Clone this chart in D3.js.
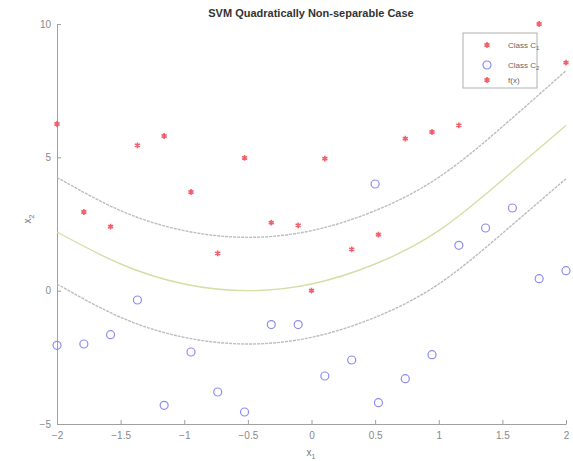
<!DOCTYPE html>
<html>
<head>
<meta charset="utf-8">
<script src="https://cdn.jsdelivr.net/npm/d3@7"></script>
<style>
  body { margin: 0; background: #fff; }
  text { font-family: "Liberation Sans", Arial, sans-serif; }
</style>
</head>
<body>
<div id="chart"></div>
<script>
// class C1 (red asterisks)
const c1X = [-2, -1.789, -1.579, -1.368, -1.158, -0.947, -0.737, -0.526, -0.316, -0.105,
             0.105, 0, 0.316, 0.526, 0.737, 0.947, 1.158, 1.789, 2];
const c1Y = [6.25, 2.95, 2.4, 5.45, 5.8, 3.7, 1.4, 4.98, 2.55, 2.45,
             4.95, 0, 1.55, 2.1, 5.7, 5.95, 6.2, 10, 8.55];

// class C2 (blue circles)
const c2X = [-2, -1.789, -1.579, -1.368, -1.158, -0.947, -0.737, -0.526, -0.316, -0.105,
             0.105, 0.316, 0.5, 0.526, 0.737, 0.947, 1.158, 1.368, 1.579, 1.789, 2];
const c2Y = [-2.05, -2.0, -1.65, -0.35, -4.3, -2.3, -3.8, -4.55, -1.27, -1.27,
             -3.2, -2.6, 4.0, -4.2, -3.3, -2.4, 1.7, 2.35, 3.1, 0.45, 0.75];

// decision curve and margins
const curveX = [-2, -1.5, -1, -0.5, 0, 0.5, 1, 1.5, 2];
const fMid = [2.2, 1.0, 0.25, 0.0, 0.25, 1.0, 2.25, 4.15, 6.2];
const fUpper = [4.25, 3.0, 2.25, 2.0, 2.25, 3.0, 4.25, 6.15, 8.25];
const fLower = [0.25, -1.0, -1.75, -2.0, -1.75, -1.0, 0.25, 2.15, 4.2];

const xTicks = [-2, -1.5, -1, -0.5, 0, 0.5, 1, 1.5, 2];
const yTicks = [-5, 0, 5, 10];

const width = 573, height = 461;
const margin = { top: 24, right: 7, bottom: 37, left: 57 };

const svg = d3.select("#chart").append("svg")
  .attr("width", width).attr("height", height);

const x = d3.scaleLinear().domain([-2, 2]).range([margin.left, width - margin.right]);
const y = d3.scaleLinear().domain([-5, 10]).range([height - margin.bottom, margin.top]);

// axes, ticks pointing inward
const xAxis = svg.append("g")
  .attr("transform", `translate(0,${height - margin.bottom})`)
  .call(d3.axisBottom(x).tickValues(xTicks).tickSize(-4).tickSizeOuter(0).tickPadding(8)
    .tickFormat(d => String(d).replace("-", "\u2212")));
const yAxis = svg.append("g")
  .attr("transform", `translate(${margin.left},0)`)
  .call(d3.axisLeft(y).tickValues(yTicks).tickSize(-4).tickSizeOuter(0).tickPadding(6)
    .tickFormat(d => String(d).replace("-", "\u2212")));
[xAxis, yAxis].forEach(a => {
  a.select(".domain").attr("stroke", "#a0a0a0");
  a.selectAll(".tick line").attr("stroke", "#a0a0a0");
  a.selectAll(".tick text").attr("fill", "#888").style("font-size", "10px");
});

// curves
const line = d3.line().x((d, i) => x(curveX[i])).y(d => y(d)).curve(d3.curveNatural);
svg.append("path").datum(fUpper).attr("d", line)
  .attr("fill", "none").attr("stroke", "#bdbdbd").attr("stroke-width", 1.4)
  .attr("stroke-dasharray", "3,1");
svg.append("path").datum(fMid).attr("d", line)
  .attr("fill", "none").attr("stroke", "#d3dfa6").attr("stroke-width", 1.4);
svg.append("path").datum(fLower).attr("d", line)
  .attr("fill", "none").attr("stroke", "#bdbdbd").attr("stroke-width", 1.4)
  .attr("stroke-dasharray", "3,1");

const redColor = "#f2606e";
const blueColor = "#8c8cf2";
const star = d3.symbol().type(d3.symbolAsterisk).size(24);

// class C1
svg.append("g").selectAll("path")
  .data(c1X.map((v, i) => [v, c1Y[i]]))
  .join("path")
  .attr("d", star)
  .attr("transform", d => `translate(${x(d[0])},${y(d[1])})`)
  .attr("fill", "none").attr("stroke", redColor).attr("stroke-width", 1.6);

// class C2
svg.append("g").selectAll("circle")
  .data(c2X.map((v, i) => [v, c2Y[i]]))
  .join("circle")
  .attr("cx", d => x(d[0])).attr("cy", d => y(d[1]))
  .attr("r", 4)
  .attr("fill", "none").attr("stroke", blueColor).attr("stroke-width", 1.2);

// title and labels
svg.append("text")
  .attr("x", 311).attr("y", 17)
  .attr("text-anchor", "middle")
  .style("font-size", "11px").style("font-weight", "bold").attr("fill", "#333")
  .text("SVM Quadratically Non-separable Case");

const xl = svg.append("text")
  .attr("x", 311).attr("y", 456).attr("text-anchor", "middle")
  .style("font-size", "10px").attr("fill", "#777");
xl.append("tspan").text("x");
xl.append("tspan").attr("dy", 3).style("font-size", "7px").text("1");

const yl = svg.append("text")
  .attr("transform", "translate(31,219) rotate(-90)").attr("text-anchor", "middle")
  .style("font-size", "10px").attr("fill", "#777");
yl.append("tspan").text("x");
yl.append("tspan").attr("dy", 3).style("font-size", "7px").text("2");

// legend
const legend = svg.append("g").attr("transform", "translate(463,33)");
legend.append("rect")
  .attr("width", 74).attr("height", 55)
  .attr("fill", "#fff").attr("stroke", "#b0b0b0").attr("stroke-width", 1);

const legendItems = [
  { label: "Class C", sub: "1", type: "star" },
  { label: "Class C", sub: "2", type: "circle" },
  { label: "f(x)", sub: "", type: "star" }
];
const legendY = [12, 32, 47];

legendItems.forEach((item, i) => {
  const g = legend.append("g").attr("transform", `translate(24,${legendY[i]})`);
  if (item.type === "star") {
    g.append("path").attr("d", star).attr("fill", "none")
      .attr("stroke", redColor).attr("stroke-width", 1.6);
  } else {
    g.append("circle").attr("r", 4).attr("fill", "none")
      .attr("stroke", blueColor).attr("stroke-width", 1.2);
  }
  const t = g.append("text").attr("x", 21).attr("y", 3)
    .style("font-size", "8px").attr("fill", "#666");
  t.append("tspan").text(item.label);
  if (item.sub) t.append("tspan").attr("dy", 2).style("font-size", "6px").text(item.sub);
});
</script>
</body>
</html>
